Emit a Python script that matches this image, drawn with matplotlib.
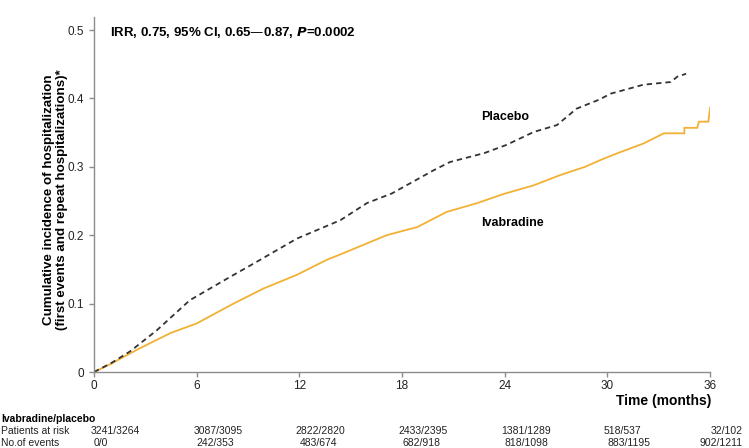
import matplotlib
matplotlib.use("Agg")
import matplotlib.pyplot as plt
import matplotlib.transforms as mtransforms

plt.rcParams['font.family'] = ['Liberation Sans', 'DejaVu Sans']

# ---- data ----
placebo_t = [0, 1.0, 2.1, 3.67, 5.6, 7.95, 9.5, 11.85, 14.4, 15.95, 17.4, 19.85,
             20.8, 22.8, 24.1, 25.7, 27.05, 28.2, 29.5, 30.2, 32.1, 33.7, 34.1, 34.6]
placebo_v = [0, 0.013, 0.030, 0.061, 0.105, 0.139, 0.161, 0.195, 0.222, 0.247, 0.261, 0.295,
             0.307, 0.320, 0.332, 0.351, 0.361, 0.385, 0.398, 0.407, 0.420, 0.424, 0.432, 0.436]

ivab_t = [0, 1.0, 1.72, 2.7, 4.47, 6.0, 8.15, 9.9, 11.85, 13.6, 14.4, 17.1, 18.9, 20.6,
          22.4, 23.9, 25.7, 27.25, 28.7, 29.6, 30.6, 32.1, 33.3, 34.5, 34.5, 35.25, 35.35,
          35.9, 36.0]
ivab_v = [0, 0.012, 0.022, 0.035, 0.057, 0.071, 0.100, 0.122, 0.142, 0.164, 0.172, 0.200,
          0.212, 0.234, 0.247, 0.260, 0.273, 0.288, 0.300, 0.310, 0.320, 0.334, 0.349, 0.349,
          0.357, 0.357, 0.366, 0.366, 0.386]

x_ticks = [0, 6, 12, 18, 24, 30, 36]
y_ticks = [0, 0.1, 0.2, 0.3, 0.4, 0.5]
y_tick_labels = ['0', '0.1', '0.2', '0.3', '0.4', '0.5']

at_risk = ['3241/3264', '3087/3095', '2822/2820', '2433/2395', '1381/1289', '518/537', '32/102']
events = ['0/0', '242/353', '483/674', '682/918', '818/1098', '883/1195', '902/1211']

title_text = 'IRR, 0.75, 95% CI, 0.65\u20140.87, $\\boldsymbol{P}$=0.0002'

# ---- figure ----
fig = plt.figure(figsize=(7.49, 4.48), dpi=100)
ax = fig.add_axes([0.1255, 0.1696, 0.8225, 0.7924])

gold = '#F2B134'
ax.plot(ivab_t, ivab_v, color=gold, lw=1.3, solid_joinstyle='miter')
ax.plot(placebo_t, placebo_v, color='#333333', lw=1.3, linestyle=(0, (3.0, 2.2)))

ax.set_xlim(0, 36)
ax.set_ylim(0, 0.519)
ax.set_xticks(x_ticks)
ax.set_xticklabels([str(t) for t in x_ticks])
ax.set_yticks(y_ticks)
ax.set_yticklabels(y_tick_labels)
for s in ['top', 'right']:
    ax.spines[s].set_visible(False)
for s in ['left', 'bottom']:
    ax.spines[s].set_color('#8c8c8c')
    ax.spines[s].set_linewidth(1.0)
ax.tick_params(axis='both', colors='#8c8c8c', length=3.5, width=1.0, labelsize=8.5,
               labelcolor='#222222', direction='out')
ax.tick_params(axis='x', pad=2)

ax.set_ylabel('Cumulative incidence of hospitalization\n(first events and repeat hospitalizations)*',
              fontsize=9.6, fontweight='bold', linespacing=1.1)
ax.yaxis.set_label_coords(-0.042, 0.485)

ax.text(0.95, 0.497, title_text, fontsize=9.5, fontweight='bold', va='center', ha='left',
        transform=ax.transData)
ax.text(22.6, 0.373, 'Placebo', fontsize=9, fontweight='bold', va='center', ha='left')
ax.text(22.6, 0.218, 'Ivabradine', fontsize=9, fontweight='bold', va='center', ha='left')

# x label & table
fig.text(0.95, 0.105, 'Time (months)', fontsize=10, fontweight='bold', ha='right', va='center')

trans = mtransforms.blended_transform_factory(ax.transData, fig.transFigure)
row_y = [0.065, 0.038, 0.012]
fig.text(0.002, row_y[0], 'Ivabradine/placebo', fontsize=7.5, fontweight='bold', ha='left', va='center')
fig.text(0.002, row_y[1], 'Patients at risk', fontsize=7.5, ha='left', va='center', color='#222222')
fig.text(0.002, row_y[2], 'No.of events', fontsize=7.5, ha='left', va='center', color='#222222')
for i, (t, r, e) in enumerate(zip(x_ticks, at_risk, events)):
    if i == len(x_ticks) - 1:
        fig.text(0.991, row_y[1], r, fontsize=7.5, ha='right', va='center', color='#222222')
        fig.text(0.991, row_y[2], e, fontsize=7.5, ha='right', va='center', color='#222222')
    else:
        ax.text(t - 0.2, row_y[1], r, fontsize=7.5, ha='left', va='center', color='#222222',
                transform=trans)
        ax.text(t, row_y[2], e, fontsize=7.5, ha='left', va='center', color='#222222',
                transform=trans)

fig.savefig('out.png', dpi=100)
